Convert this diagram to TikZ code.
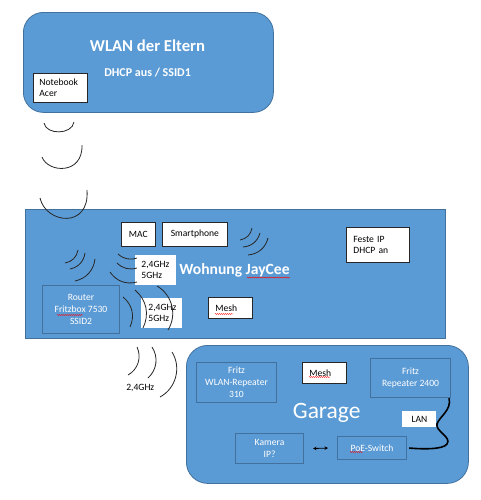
\documentclass[tikz,border=0pt]{standalone}
\usepackage{fontspec}
\setmainfont{Carlito}
\usetikzlibrary{arrows.meta,decorations.pathmorphing}
\definecolor{boxblue}{HTML}{5B9BD5}
\definecolor{edgeblue}{HTML}{41719C}
\definecolor{ink}{HTML}{262626}
\begin{document}
\begin{tikzpicture}[x=0.75pt,y=-0.75pt,
  bigbox/.style={fill=boxblue,draw=edgeblue,line width=0.6pt,anchor=north west,inner sep=0pt},
  wbox/.style={fill=white,draw=ink,line width=0.6pt,anchor=north west,inner ysep=0pt,inner xsep=0pt,
    text=black,font=\fontsize{7.2}{8.25}\selectfont,align=center},
  gbox/.style={wbox,draw=none},
  dbox/.style={fill=boxblue,draw=edgeblue,line width=0.8pt,anchor=north west,inner sep=0pt,
    text=white,font=\fontsize{7.2}{9}\selectfont,align=center},
  title/.style={text=white,anchor=base,inner sep=0pt},
  wave/.style={draw=ink,line width=0.6pt},
  cable/.style={draw=black,line width=1.2pt},
  dbl/.style={draw=black,line width=0.6pt,{Stealth[length=2.6pt,width=2.6pt]}-{Stealth[length=2.6pt,width=2.6pt]}},
  squig/.style={draw=red,line width=0.35pt,decorate,decoration={snake,amplitude=0.35pt,segment length=1.5pt}}
]
\useasboundingbox (0,0) rectangle (481,500);

% containers
\node[bigbox,rounded corners=15pt,minimum width=187.5pt,minimum height=75pt] (eltern) at (23,12) {};
\node[bigbox,minimum width=315pt,minimum height=96.75pt] (wohnung) at (25,209) {};
\node[bigbox,rounded corners=16pt,minimum width=211.5pt,minimum height=103.5pt] (garage) at (186,345) {};

% titles
\node[title,font=\bfseries\fontsize{12.5}{15}\selectfont] (t1) at (147.5,51.7) {WLAN der Eltern};
\node[title,font=\bfseries\fontsize{9}{11}\selectfont] (t2) at (147.6,76.7) {DHCP aus / SSID1};
\node[title,font=\bfseries\fontsize{11.7}{14}\selectfont] (t3) at (234.5,274) {Wohnung JayCee};
\node[title,font=\fontsize{17.6}{20}\selectfont] (t4) at (326.7,418.3) {Garage};
\node[anchor=base,inner sep=0pt,text=black,font=\fontsize{7.2}{8.25}\selectfont] (t5) at (140.3,390.7) {2,4GHz};

% white boxes
\node[wbox,minimum width=40.5pt,minimum height=21.75pt,text width=31.5pt,inner xsep=4.5pt,align=left] (nb) at (33,73) {Notebook\\Acer};
\node[wbox,minimum width=25.5pt,minimum height=18pt] (mac) at (121,222) {MAC};
\node[wbox,minimum width=48.75pt,minimum height=18pt] (smart) at (162,222) {Smartphone};
\node[wbox,minimum width=47.25pt,minimum height=26.25pt,text width=36.75pt,inner xsep=5.25pt,align=left] (feste) at (346,227) {Feste IP\\DHCP an};
\node[gbox,minimum width=30.75pt,minimum height=22.5pt,text width=21.75pt,inner xsep=4.5pt,align=left] (ghz1) at (135,255) {2,4GHz\\5GHz};
\node[gbox,minimum width=30.75pt,minimum height=22.5pt,text width=20.25pt,inner xsep=5.25pt,align=left] (ghz2) at (141,298) {2,4GHz\\5GHz};
\node[wbox,minimum width=33pt,minimum height=15.75pt,text width=22.5pt,inner xsep=5.25pt,align=left] (mesh1) at (208,297) {Mesh};
\node[wbox,minimum width=33pt,minimum height=15.75pt,text width=22.5pt,inner xsep=5.25pt,align=left] (mesh2) at (302,362) {Mesh};
\node[gbox,minimum width=25.5pt,minimum height=12pt] (lan) at (402,411) {LAN};

% dark-outlined boxes
\node[dbox,minimum width=57.75pt,minimum height=36pt] (router) at (42,285) {Router\\Fritzbox 7530\\SSID2};
\node[dbox,minimum width=60pt,minimum height=30pt] (rep310) at (196,362) {Fritz\\WLAN-Repeater\\310};
\node[dbox,minimum width=60pt,minimum height=29.25pt] (rep2400) at (370,358) {Fritz\\Repeater 2400};
\node[dbox,minimum width=51pt,minimum height=22.5pt] (kamera) at (235,433) {Kamera\\IP?};
\node[dbox,minimum width=51.75pt,minimum height=17.25pt] (poe) at (337,436) {PoE-Switch};

% connectors
\coordinate (cs) at ([xshift=-1.5pt]rep2400.south east);
\coordinate (ce) at ([xshift=1.5pt]poe.east);
\draw[cable] (cs) .. controls (452,410) and (439,417) .. (437,424)
  .. controls (435,431) and (452,437) .. (447,444)
  .. controls (443,450) and (420,449) .. (ce);
\draw[dbl] ([xshift=6.75pt]kamera.east) -- ([xshift=-6.75pt]poe.west);

% radio waves: between the two networks
\draw[wave] (44,123) .. controls (46,135) and (72,135) .. (74,122);
\draw[wave] (42,157) .. controls (48,173) and (83,175) .. (82,145);
\draw[wave] (40,198) .. controls (46,224) and (90,229) .. (87,190);
% router waves
\draw[wave] (65,263) to[bend right=35] (78,250);
\draw[wave] (70,269) to[bend right=35] (85,253);
\draw[wave] (75,281) to[bend right=35] (95,259);
% towards first band box
\draw[wave] (118,254) to[bend right=30] (137,258);
\draw[wave] (117,263) to[bend right=30] (137,268);
\draw[wave] (110,272) to[bend right=35] (137,282);
% around second band box
\draw[wave] (123,297) to[bend left=38] (130,327);
\draw[wave] (135,290) to[bend left=38] (143,328);
\draw[wave] (157,286) to[bend left=46] (168,330);
% smartphone waves
\draw[wave] (240,240) to[bend right=35] (252,228);
\draw[wave] (243,247) to[bend right=35] (260,233);
\draw[wave] (248,255) to[bend right=35] (268,238);
% towards garage
\draw[wave] (137,347) to[bend left=43] (128,375);
\draw[wave] (152,347) to[bend left=40] (148,378);
\draw[wave] (172,352) to[bend left=47] (160,397);

% spell-check marks
\path[squig] (247,277.5) -- (290,277.5);
\path[squig] (57,315) -- (83,315);
\path[squig] (215,314) -- (233,314);
\path[squig] (309,377) -- (330,377);
\path[squig] (350,452) -- (363,452);
\end{tikzpicture}
\end{document}
